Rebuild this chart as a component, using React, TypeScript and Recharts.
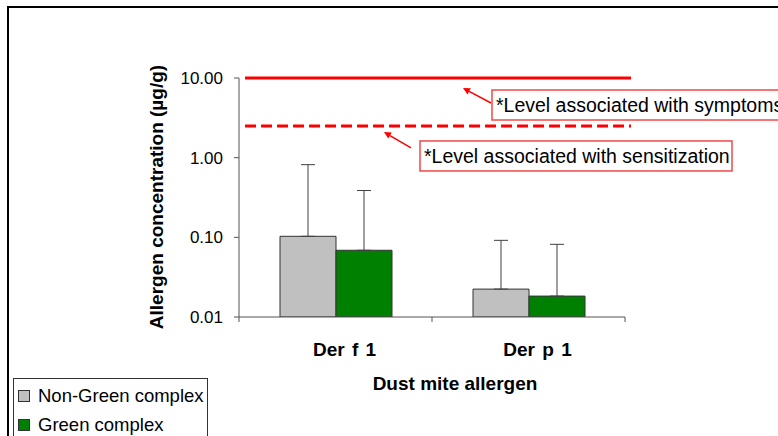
import React from 'react';
import { BarChart, Bar, XAxis, YAxis, ErrorBar, ReferenceLine } from 'recharts';

const categories = ['Der f 1', 'Der p 1'];
const seriesNames = ['Non-Green complex', 'Green complex'];
const seriesColors = ['#C0C0C0', '#008000'];
const nonGreenMeans = [0.103, 0.0224];
const greenMeans = [0.0688, 0.0183];
const nonGreenUpper = [0.817, 0.0917];
const greenUpper = [0.387, 0.0817];
const yTicks = [0.01, 0.1, 1, 10];
const symptomsLevel = 10;
const sensitizationLevel = 2.5;
const symptomsText = '*Level associated with symptoms';
const sensitizationText = '*Level associated with sensitization';
const yTitle = 'Allergen concentration (\u00b5g/g)';
const xTitle = 'Dust mite allergen';

const data = categories.map((c, i) => ({
  name: c,
  nonGreen: nonGreenMeans[i],
  green: greenMeans[i],
  nonGreenErr: [0, nonGreenUpper[i] - nonGreenMeans[i]],
  greenErr: [0, greenUpper[i] - greenMeans[i]],
}));

const FONT = '"Liberation Sans", Arial, sans-serif';
const RED = '#ff0000';

const shiftedLine = (dash?: string) => (props: any) => (
  <line
    x1={props.x1 + 6}
    y1={props.y1}
    x2={props.x2 + 6}
    y2={props.y2}
    stroke={RED}
    strokeWidth={3}
    strokeDasharray={dash}
  />
);

function Arrow({ x1, y1, x2, y2 }: any) {
  const dx = x2 - x1;
  const dy = y2 - y1;
  const len = Math.sqrt(dx * dx + dy * dy);
  const ux = dx / len;
  const uy = dy / len;
  const hl = 7;
  const hw = 3.5;
  const bx = x2 - ux * hl;
  const by = y2 - uy * hl;
  const pts = `${x2},${y2} ${bx - uy * hw},${by + ux * hw} ${bx + uy * hw},${by - ux * hw}`;
  return (
    <g>
      <line x1={x1} y1={y1} x2={bx} y2={by} stroke={RED} strokeWidth={1.5} />
      <polygon points={pts} fill={RED} />
    </g>
  );
}

const annotation = (text: string, dx: number, dy: number, w: number, tail: number[], head: number[]) => (props: any) => {
  const vb = props.viewBox || {};
  const bx = vb.x + dx;
  const by = vb.y + dy;
  return (
    <g>
      <Arrow x1={bx + tail[0]} y1={by + tail[1]} x2={bx + head[0]} y2={by + head[1]} />
      <rect x={bx} y={by} width={w} height={30} fill="#fff" stroke="#f04848" strokeWidth={1.5} />
      <text x={bx + 4} y={by + 22} fontSize={19.5} fill="#000" fontFamily={FONT}>
        {text}
      </text>
    </g>
  );
};

function CategoryTick(props: any) {
  const { x, y, payload, index } = props;
  const off = payload.offset || 0;
  return (
    <g>
      <line x1={x + off} y1={y} x2={x + off} y2={y + 5} stroke="#555" />
      {index === 0 && <line x1={x - off} y1={y} x2={x - off} y2={y + 5} stroke="#555" />}
      <text x={x + 9} y={y + 39} textAnchor="middle" fontSize={19} fontWeight="bold" fill="#000" fontFamily={FONT} wordSpacing={2}>
        {payload.value}
      </text>
    </g>
  );
}

export default function App() {
  return (
    <div style={{ position: 'absolute', left: 0, top: 0, width: 778, height: 436, overflow: 'hidden', background: '#fff', fontFamily: FONT }}>
      <div style={{ position: 'absolute', left: 7, top: 6, width: 800, height: 460, borderTop: '2px solid #000', borderLeft: '2px solid #000' }} />
      <div style={{ position: 'absolute', left: 0, top: 0 }}>
        <BarChart
          width={778}
          height={436}
          data={data}
          margin={{ top: 78, right: 153, bottom: 89, left: 159 }}
          barCategoryGap={41}
          barGap={0}
        >
          <XAxis
            dataKey="name"
            height={30}
            tickSize={0}
            tickMargin={0}
            tickLine={false}
            axisLine={{ stroke: '#555' }}
            tick={<CategoryTick />}
            interval={0}
          />
          <YAxis
            scale="log"
            type="number"
            domain={[0.01, 10]}
            ticks={yTicks}
            allowDataOverflow
            width={80}
            tickSize={5}
            tickMargin={11}
            axisLine={{ stroke: '#555' }}
            tickLine={{ stroke: '#555' }}
            tick={{ fill: '#000', fontSize: 17 }}
            tickFormatter={(v: number) => v.toFixed(2)}
          />
          <Bar dataKey="nonGreen" name={seriesNames[0]} fill={seriesColors[0]} stroke="#333" strokeWidth={1} isAnimationActive={false}>
            <ErrorBar dataKey="nonGreenErr" width={7} stroke="#404040" strokeWidth={1} direction="y" />
          </Bar>
          <Bar dataKey="green" name={seriesNames[1]} fill={seriesColors[1]} stroke="#333" strokeWidth={1} isAnimationActive={false}>
            <ErrorBar dataKey="greenErr" width={7} stroke="#404040" strokeWidth={1} direction="y" />
          </Bar>
          <ReferenceLine
            y={symptomsLevel}
            ifOverflow="visible"
            shape={shiftedLine()}
            label={annotation(symptomsText, 253, 12, 300, [-1, 13], [-29, -2])}
          />
          <ReferenceLine
            y={sensitizationLevel}
            ifOverflow="visible"
            shape={shiftedLine('11 5')}
            label={annotation(sensitizationText, 181, 15, 312, [-9, 7], [-36, -9])}
          />
        </BarChart>
      </div>
      <svg width={778} height={436} style={{ position: 'absolute', left: 0, top: 0, pointerEvents: 'none' }}>
        <text
          x={163}
          y={197}
          transform="rotate(-90 163 197)"
          textAnchor="middle"
          fontSize={19}
          fontWeight="bold"
          fill="#000"
          fontFamily={FONT}
        >
          {yTitle}
        </text>
        <text x={455} y={390} textAnchor="middle" fontSize={19} fontWeight="bold" fill="#000" fontFamily={FONT}>
          {xTitle}
        </text>
      </svg>
      <div
        style={{
          position: 'absolute',
          left: 13,
          top: 378,
          width: 193,
          height: 70,
          border: '1px solid #333',
          background: '#fff',
        }}
      >
        {seriesNames.map((n, i) => (
          <div key={n} style={{ position: 'absolute', left: 4, top: 6 + i * 29, height: 22, display: 'flex', alignItems: 'center' }}>
            <div style={{ width: 10, height: 10, background: seriesColors[i], border: '1px solid #333', marginRight: 8 }} />
            <span style={{ fontSize: 18.5, color: '#000', whiteSpace: 'nowrap' }}>{n}</span>
          </div>
        ))}
      </div>
    </div>
  );
}
